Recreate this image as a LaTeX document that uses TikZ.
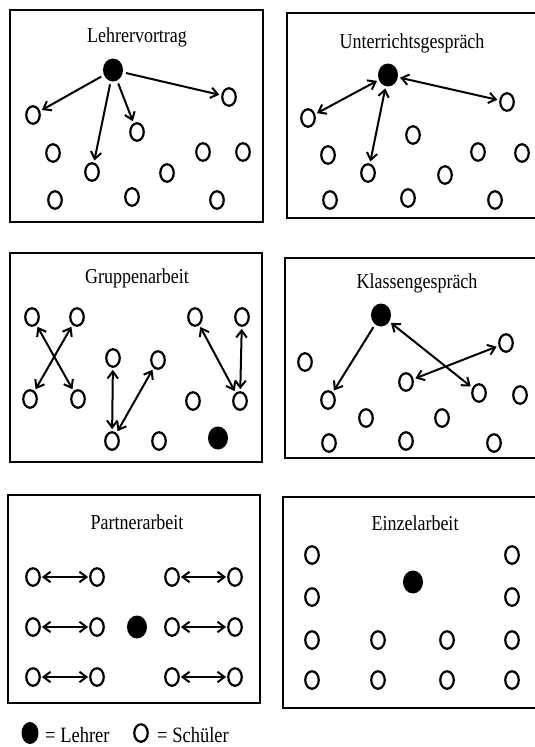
\documentclass[tikz,border=0pt]{standalone}
\usepackage{fontspec}
\setmainfont{Liberation Serif}
\usetikzlibrary{arrows.meta,shapes.geometric}
\newcommand{\tall}[1]{\scalebox{1}[1.18]{#1}}
\begin{document}
\begin{tikzpicture}[x=1pt,y=-1pt,
  stud/.style={ellipse,draw,line width=2.2pt,minimum width=13.5pt,minimum height=17.5pt,inner sep=0pt},
  teach/.style={ellipse,fill=black,minimum width=20pt,minimum height=23pt,inner sep=0pt},
  panel/.style={draw,line width=2.4pt},
  ttl/.style={font=\fontsize{18}{21}\selectfont},
  lgd/.style={font=\fontsize{18.5}{22}\selectfont},
  tip/.tip={Straight Barb[length=7pt,width=10.5pt,line width=2pt]},
  ar/.style={line width=2pt,-tip,shorten >=2pt,shorten <=3pt},
  dar/.style={line width=2pt,tip-tip,shorten >=2pt,shorten <=2pt}
]
\useasboundingbox (0,0) rectangle (535,747);
\clip (0,0) rectangle (535,747);

% ---------- Panel 1: Lehrervortrag
\draw[panel] (10,10) rectangle (263,222);
\node[ttl] (t1) at (137,37) {\tall{Lehrervortrag}};
\node[teach] (T1) at (113,70) {};
\node[stud] (a1) at (33,115) {};
\node[stud] (b1) at (229,97) {};
\node[stud] (c1) at (137,132) {};
\node[stud] (d1) at (53,153) {};
\node[stud] (e1) at (92,172) {};
\node[stud] (f1) at (203,152) {};
\node[stud] (g1) at (243,152) {};
\node[stud] (h1) at (167,173) {};
\node[stud] (i1) at (55,200) {};
\node[stud] (j1) at (132,197) {};
\node[stud] (k1) at (217,200) {};
\draw[ar] (T1) -- (a1);
\draw[ar] (T1) -- (e1);
\draw[ar] (T1) -- (c1);
\draw[ar] (T1) -- (b1);

% ---------- Panel 2: Unterrichtsgespräch
\draw[panel] (287,13) rectangle (545,218);
\node[ttl] (t2) at (412,43) {\tall{Unterrichtsgespräch}};
\node[teach] (T2) at (388,75) {};
\node[stud] (a2) at (308,118) {};
\node[stud] (b2) at (507,102) {};
\node[stud] (c2) at (413,135) {};
\node[stud] (d2) at (328,155) {};
\node[stud] (e2) at (368,173) {};
\node[stud] (f2) at (478,152) {};
\node[stud] (g2) at (522,153) {};
\node[stud] (h2) at (445,175) {};
\node[stud] (i2) at (330,200) {};
\node[stud] (j2) at (408,198) {};
\node[stud] (k2) at (495,200) {};
\draw[dar] (T2) -- (a2);
\draw[dar] (T2) -- (e2);
\draw[dar] (T2) -- (b2);

% ---------- Panel 3: Gruppenarbeit
\draw[panel] (10,253) rectangle (262,462);
\node[ttl] (t3) at (137,278) {\tall{Gruppenarbeit}};
\node[stud] (a3) at (32,317) {};
\node[stud] (b3) at (77,317) {};
\node[stud] (c3) at (30,399) {};
\node[stud] (d3) at (78,399) {};
\node[stud] (e3) at (113,358) {};
\node[stud] (f3) at (158,360) {};
\node[stud] (g3) at (112,441) {};
\node[stud] (h3) at (159,441) {};
\node[stud] (i3) at (195,317) {};
\node[stud] (j3) at (242,317) {};
\node[stud] (k3) at (193,401) {};
\node[stud] (l3) at (240,401) {};
\node[teach] (T3) at (218,438) {};
\draw[dar] (a3) -- (d3);
\draw[dar] (b3) -- (c3);
\draw[dar] (e3) -- (g3);
\draw[dar] (f3) -- (g3);
\draw[dar] (i3) -- (l3);
\draw[dar] (j3) -- (l3);

% ---------- Panel 4: Klassengespräch
\draw[panel] (285,258) rectangle (545,458);
\node[ttl] (t4) at (417,283) {\tall{Klassengespräch}};
\node[teach] (T4) at (381,315) {};
\node[stud] (a4) at (305,362) {};
\node[stud] (b4) at (506,343) {};
\node[stud] (c4) at (406,382) {};
\node[stud] (d4) at (328,400) {};
\node[stud] (e4) at (479,393) {};
\node[stud] (f4) at (520,395) {};
\node[stud] (g4) at (366,418) {};
\node[stud] (h4) at (442,418) {};
\node[stud] (i4) at (329,443) {};
\node[stud] (j4) at (406,441) {};
\node[stud] (k4) at (494,443) {};
\draw[ar] (T4) -- (d4);
\draw[dar] (T4) -- (e4);
\draw[dar] (c4) -- (b4);

% ---------- Panel 5: Partnerarbeit
\draw[panel] (8,495) rectangle (260,703);
\node[ttl] (t5) at (137,522) {\tall{Partnerarbeit}};
\foreach \r/\y in {1/577,2/627,3/677}{
  \node[stud] (pl\r) at (33,\y) {};
  \node[stud] (ql\r) at (97,\y) {};
  \node[stud] (pr\r) at (172,\y) {};
  \node[stud] (qr\r) at (235,\y) {};
  \draw[dar,shorten <=1pt,shorten >=1pt] (pl\r) -- (ql\r);
  \draw[dar,shorten <=1pt,shorten >=1pt] (pr\r) -- (qr\r);
}
\node[teach] (T5) at (137,627) {};

% ---------- Panel 6: Einzelarbeit
\draw[panel] (283,497) rectangle (545,708);
\node[ttl] (t6) at (415,523) {\tall{Einzelarbeit}};
\node[teach] (T6) at (413,582) {};
\foreach \y [count=\i] in {555,597,640,680}{
  \node[stud] (ea\i) at (312,\y) {};
  \node[stud] (ed\i) at (512,\y) {};
}
\foreach \y [count=\i] in {640,680}{
  \node[stud] (eb\i) at (378,\y) {};
  \node[stud] (ec\i) at (447,\y) {};
}

% ---------- Legend
\node[teach,minimum width=17pt,minimum height=22pt] (LT) at (30,733) {};
\node[lgd,anchor=west,inner sep=0pt] (LTt) at (45,735) {\tall{= Lehrer}};
\node[stud] (LS) at (141,733) {};
\node[lgd,anchor=west,inner sep=0pt] (LSt) at (157,735) {\tall{= Schüler}};
\end{tikzpicture}
\end{document}
